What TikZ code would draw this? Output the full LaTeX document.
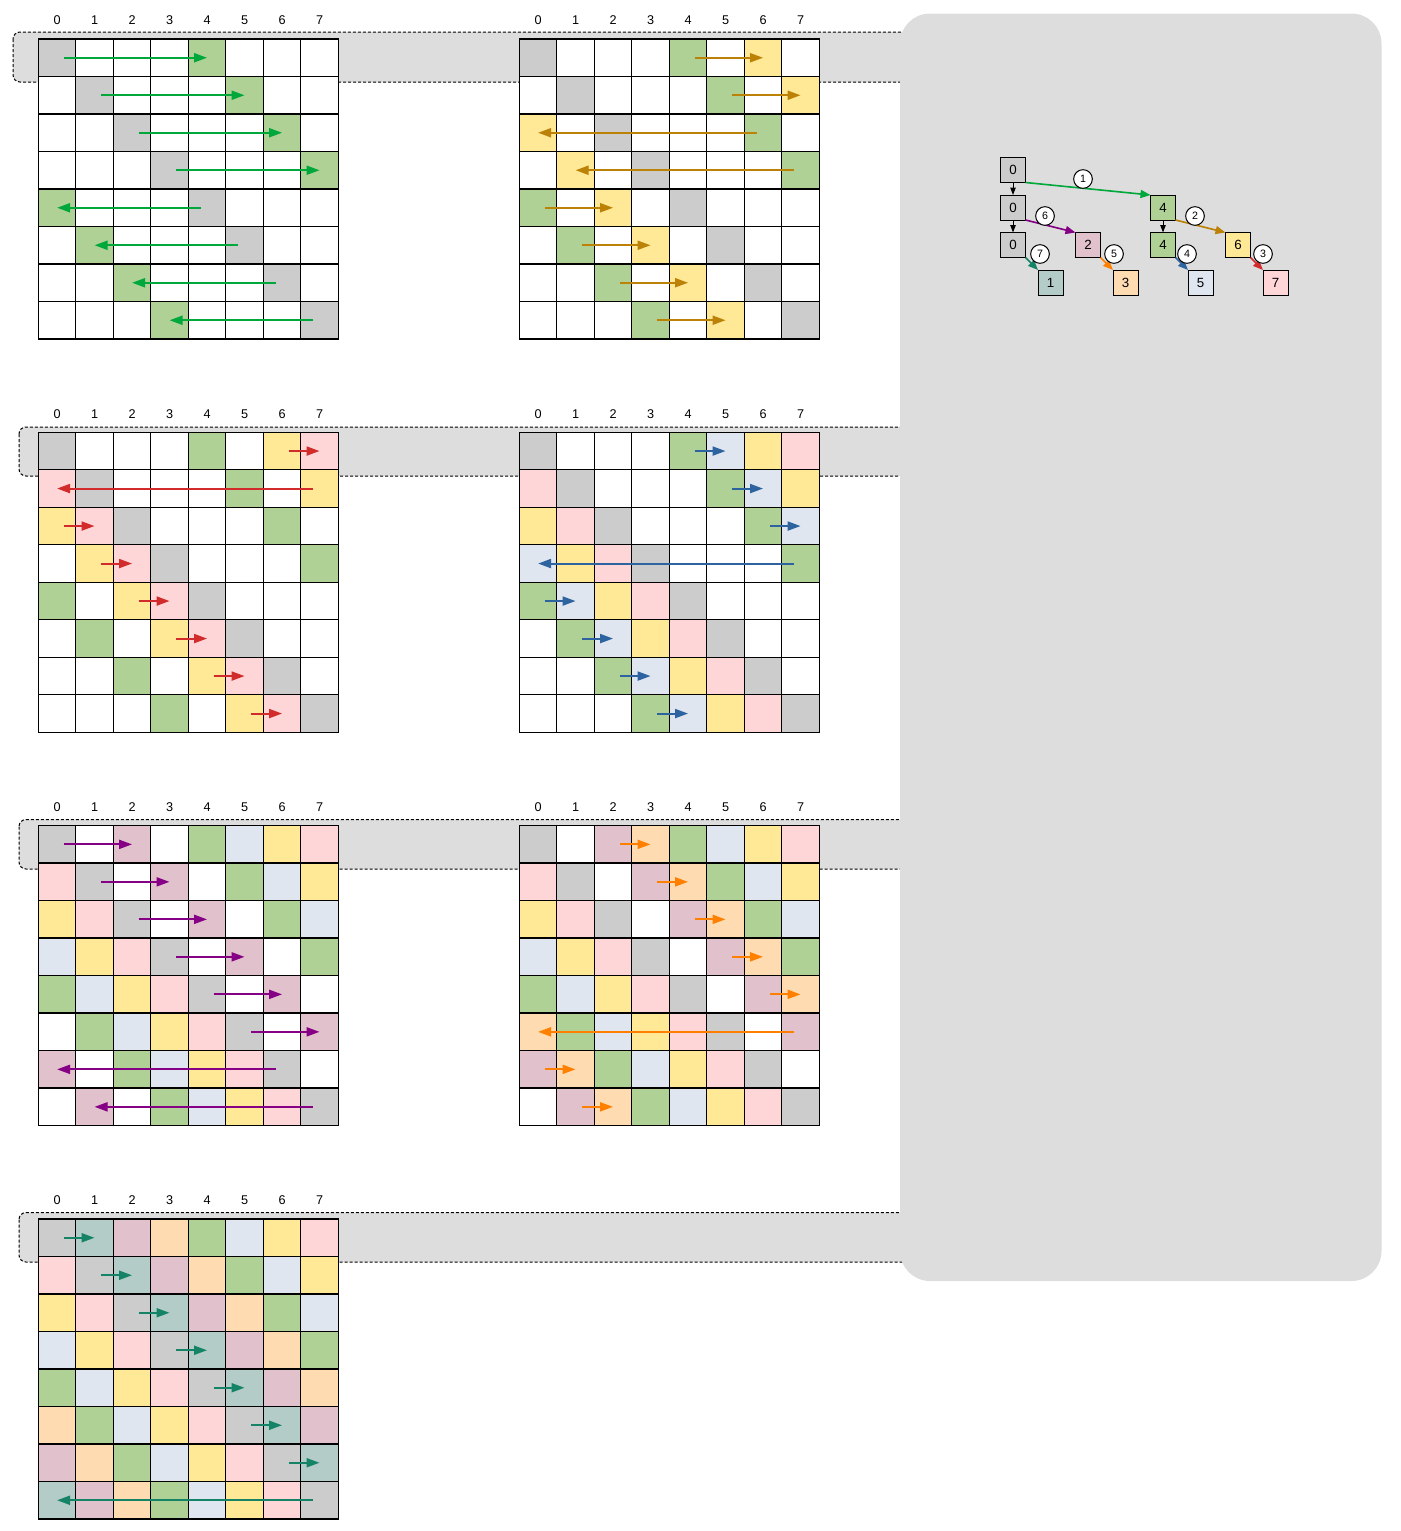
\documentclass[tikz,border=0pt]{standalone}
\usepackage{fontspec}
\setmainfont{Liberation Sans}
\usetikzlibrary{arrows.meta}
\definecolor{off0}{HTML}{CCCCCC}
\definecolor{off1}{HTML}{B4CCC8}
\definecolor{off2}{HTML}{E1C2CC}
\definecolor{off3}{HTML}{FFDBB2}
\definecolor{off4}{HTML}{B0D196}
\definecolor{off5}{HTML}{DFE6F0}
\definecolor{off6}{HTML}{FFE896}
\definecolor{off7}{HTML}{FFD6D8}
\definecolor{agreen}{HTML}{00A83C}
\definecolor{ayellow}{HTML}{BC8208}
\definecolor{ared}{HTML}{D12B2B}
\definecolor{ablue}{HTML}{2D64A0}
\definecolor{apurple}{HTML}{850085}
\definecolor{aorange}{HTML}{FF8000}
\definecolor{ateal}{HTML}{158466}
\definecolor{panelgray}{HTML}{DDDDDD}
\tikzset{
  cell/.style={draw=black, line width=1pt, minimum size=28.125pt, inner sep=0pt, outer sep=0pt},
  collab/.style={font=\fontsize{9.5}{10}\selectfont, inner sep=0pt},
  garrow/.style={line width=1.5pt, -{Triangle[length=9.75pt,width=6.75pt]}},
  tbox/.style={draw=black, line width=0.75pt, minimum size=18.75pt, inner sep=0pt, outer sep=0pt, font=\fontsize{10}{11}\selectfont},
  tlab/.style={circle, draw=black, fill=white, line width=0.75pt, minimum size=14pt, inner sep=0pt, font=\fontsize{8}{9}\selectfont},
  tarrow/.style={line width=1.2pt, -{Triangle[length=7.5pt,width=6pt]}},
  blkarrow/.style={line width=0.75pt, draw=black, -{Triangle[length=5.5pt,width=4pt]}},
  bandst/.style={fill=panelgray, draw=black, line width=0.75pt, dash pattern=on 2.25pt off 1.5pt, rounded corners=5.25pt}
}
\begin{document}
\begin{tikzpicture}[x=0.75pt,y=-0.75pt]
\useasboundingbox (0,0) rectangle (1400,1531);
% row bands
\draw[bandst] (13,32) rectangle (950,82);
\draw[bandst] (19,427) rectangle (950,476);
\draw[bandst] (19,819.5) rectangle (950,869);
\draw[bandst] (19,1212.5) rectangle (950,1262);
% right panel
\fill[panelgray, rounded corners=22.5pt] (900,13.5) rectangle (1381.5,1281);
% grids
\foreach \k/\gx/\gy/\ka/\kb/\ac in {1/38.3/39/0/4/agreen, 2/519.3/39/4/6/ayellow, 3/38.3/432.3/6/7/ared, 4/519.3/432.3/4/5/ablue, 5/38.3/825.6/0/2/apurple, 6/519.3/825.6/2/3/aorange, 7/38.3/1219/0/1/ateal} {
  \foreach \row in {0,...,7} {
    \foreach \col in {0,...,7} {
      \pgfmathtruncatemacro\dd{mod(\col-\row+8,8)}
      \pgfmathtruncatemacro\rk{{0,7,5,6,1,4,2,3}[\dd]}
      \ifnum\rk>\k\relax \def\fc{white}\else \def\fc{off\dd}\fi
      \node[cell, fill=\fc] (g\k-\row-\col) at ({\gx+(\col+0.5)*37.5},{\gy+(\row+0.5)*37.5}) {};
    }
  }
  \foreach \col in {0,...,7} {
    \node[collab] (lab\k-\col) at ({\gx+(\col+0.5)*37.5},{\gy-18.5}) {\col};
  }
  \foreach \row in {0,...,7} {
    \pgfmathtruncatemacro\sa{mod(\row+\ka,8)}
    \pgfmathtruncatemacro\sb{mod(\row+\kb,8)}
    \pgfmathsetmacro\sg{ifthenelse(\sb>\sa,1,-1)}
    \draw[garrow, color=\ac] ([xshift={\sg*4.875pt}]g\k-\row-\sa.center) -- (g\k-\row-\sb.center);
  }
}
% tree
\node[tbox, fill=off0] (t0a) at (1013,170) {0};
\node[tbox, fill=off0] (t0b) at (1013,207.5) {0};
\node[tbox, fill=off0] (t0c) at (1013,245) {0};
\node[tbox, fill=off1] (t1) at (1050.5,282.5) {1};
\node[tbox, fill=off2] (t2) at (1088,245) {2};
\node[tbox, fill=off3] (t3) at (1125.5,282.5) {3};
\node[tbox, fill=off4] (t4a) at (1163,207.5) {4};
\node[tbox, fill=off4] (t4b) at (1163,245) {4};
\node[tbox, fill=off5] (t5) at (1200.5,282.5) {5};
\node[tbox, fill=off6] (t6) at (1238,245) {6};
\node[tbox, fill=off7] (t7) at (1275.5,282.5) {7};
\draw[blkarrow] (t0a) -- (t0b);
\draw[blkarrow] (t0b) -- (t0c);
\draw[blkarrow] (t4a) -- (t4b);
\draw[tarrow, color=agreen] (t0a.south east) -- (t4a.north west);
\draw[tarrow, color=apurple] (t0b.south east) -- (t2.north west);
\draw[tarrow, color=ateal] (t0c.south east) -- (t1.north west);
\draw[tarrow, color=aorange] (t2.south east) -- (t3.north west);
\draw[tarrow, color=ayellow] (t4a.south east) -- (t6.north west);
\draw[tarrow, color=ablue] (t4b.south east) -- (t5.north west);
\draw[tarrow, color=ared] (t6.south east) -- (t7.north west);
\node[tlab] (c1) at (1083,179) {1};
\node[tlab] (c6) at (1045,216) {6};
\node[tlab] (c7) at (1040,254) {7};
\node[tlab] (c5) at (1114,254) {5};
\node[tlab] (c2) at (1195,216) {2};
\node[tlab] (c4) at (1187,254) {4};
\node[tlab] (c3) at (1263,254) {3};
\end{tikzpicture}
\end{document}
